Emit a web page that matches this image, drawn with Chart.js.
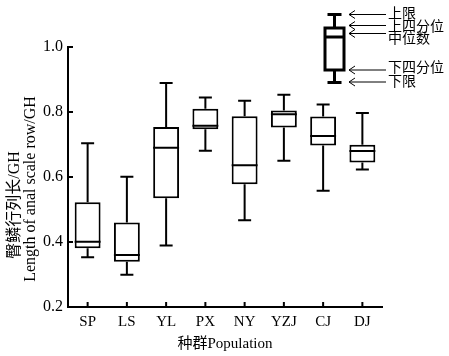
<!DOCTYPE html>
<html><head><meta charset="utf-8">
<script src="https://cdn.jsdelivr.net/npm/chart.js@4/dist/chart.umd.min.js"></script>
<style>html,body{margin:0;padding:0;background:#fff;}</style>
</head><body>
<canvas id="c" width="449" height="356"></canvas>
<script>
const categories = ['SP','LS','YL','PX','NY','YZJ','CJ','DJ'];
const whiskerMax = [0.704,0.601,0.889,0.845,0.835,0.853,0.823,0.797];
const q3Values   = [0.522,0.460,0.754,0.810,0.787,0.805,0.786,0.699];
const medians    = [0.401,0.360,0.690,0.758,0.636,0.793,0.726,0.680];
const q1Values   = [0.381,0.339,0.535,0.747,0.578,0.752,0.697,0.645];
const whiskerMin = [0.353,0.299,0.389,0.681,0.467,0.650,0.558,0.623];
const yTicks = [0.2,0.4,0.6,0.8,1.0];
const legendLabels = ['上限','上四分位','中位数','下四分位','下限'];
const yTitleCn = '臀鳞行列长/GH';
const yTitleEn = 'Length of anal scale row/GH';
const xTitle = '种群Population';

const FONT = "'Liberation Serif', 'Noto Sans CJK SC', serif";

const boxPlugin = {
  id: 'boxPlot',
  afterDatasetsDraw(chart) {
    const ctx = chart.ctx, y = chart.scales.y, x = chart.scales.x;
    const meta = chart.getDatasetMeta(0);
    const area = chart.chartArea;
    ctx.save();
    ctx.strokeStyle = '#000';
    ctx.lineWidth = 2;
    meta.data.forEach((bar, i) => {
      const cx = bar.x, hw = bar.width / 2, cap = 6.5;
      const pMax = y.getPixelForValue(whiskerMax[i]);
      const pQ3 = y.getPixelForValue(q3Values[i]);
      const pMed = y.getPixelForValue(medians[i]);
      const pQ1 = y.getPixelForValue(q1Values[i]);
      const pMin = y.getPixelForValue(whiskerMin[i]);
      ctx.beginPath();
      ctx.moveTo(cx, pQ3); ctx.lineTo(cx, pMax);
      ctx.moveTo(cx - cap, pMax); ctx.lineTo(cx + cap, pMax);
      ctx.moveTo(cx, pQ1); ctx.lineTo(cx, pMin);
      ctx.moveTo(cx - cap, pMin); ctx.lineTo(cx + cap, pMin);
      ctx.moveTo(cx - hw, pMed); ctx.lineTo(cx + hw, pMed);
      ctx.stroke();
    });
    // inward ticks
    ctx.beginPath();
    y.ticks.forEach((t, i) => {
      const py = y.getPixelForTick(i);
      ctx.moveTo(area.left, py); ctx.lineTo(area.left + 5, py);
    });
    x.ticks.forEach((t, i) => {
      const px = x.getPixelForTick(i);
      ctx.moveTo(px, area.bottom); ctx.lineTo(px, area.bottom - 5);
    });
    ctx.stroke();
    ctx.restore();
  },
  afterDraw(chart) {
    const ctx = chart.ctx;
    ctx.save();
    // y title (two rotated lines)
    ctx.fillStyle = '#000';
    ctx.font = '16px ' + FONT;
    ctx.textAlign = 'center';
    ctx.textBaseline = 'middle';
    ctx.save(); ctx.translate(15, 205); ctx.rotate(-Math.PI / 2); ctx.fillText(yTitleCn, 0, 0); ctx.restore();
    ctx.save(); ctx.translate(31, 189); ctx.rotate(-Math.PI / 2); ctx.fillText(yTitleEn, 0, 0); ctx.restore();

    // legend box
    ctx.strokeStyle = '#000';
    ctx.lineWidth = 3;
    const bx = 334.5, bl = 325, br = 344, cap = 7;
    const yTop = 14.5, yQ3 = 28, yMed = 37, yQ1 = 70, yLow = 82.5;
    ctx.strokeRect(bl, yQ3, br - bl, yQ1 - yQ3);
    ctx.beginPath();
    ctx.moveTo(bl, yMed); ctx.lineTo(br, yMed);
    ctx.moveTo(bx, yQ3); ctx.lineTo(bx, yTop);
    ctx.moveTo(bx - cap, yTop); ctx.lineTo(bx + cap, yTop);
    ctx.moveTo(bx, yQ1); ctx.lineTo(bx, yLow);
    ctx.moveTo(bx - cap, yLow); ctx.lineTo(bx + cap, yLow);
    ctx.stroke();

    // arrows
    ctx.lineWidth = 1;
    const arrowY = [14.5, 25.5, 33.5, 70, 82];
    const textY = [14.5, 27, 39.5, 68.5, 82.5];
    arrowY.forEach(ay => {
      ctx.beginPath();
      ctx.moveTo(349, ay); ctx.lineTo(386, ay);
      ctx.moveTo(355, ay - 4); ctx.lineTo(349, ay); ctx.lineTo(355, ay + 4);
      ctx.stroke();
    });
    ctx.font = '14px ' + FONT;
    ctx.textAlign = 'left';
    ctx.textBaseline = 'middle';
    legendLabels.forEach((t, i) => ctx.fillText(t, 388, textY[i]));
    ctx.restore();
  }
};

new Chart(document.getElementById('c'), {
  type: 'bar',
  data: {
    labels: categories,
    datasets: [{
      data: q1Values.map((v, i) => [v, q3Values[i]]),
      backgroundColor: '#fff',
      borderColor: '#000',
      borderWidth: 2,
      borderSkipped: false,
      barPercentage: 0.66,
      categoryPercentage: 1
    }]
  },
  options: {
    responsive: false,
    animation: false,
    devicePixelRatio: 1,
    layout: { padding: { top: 47, right: 67, left: 0, bottom: 0 } },
    plugins: { legend: { display: false }, tooltip: { enabled: false } },
    scales: {
      x: {
        offset: true,
        grid: { display: false, drawTicks: false },
        border: { display: true, color: '#000', width: 2 },
        ticks: { color: '#000', padding: 6, font: { family: FONT, size: 15 } },
        title: { display: true, text: xTitle, color: '#000', font: { family: FONT, size: 15 }, padding: { top: 0, bottom: 3 } },
        afterFit(s) { s.height = 49; }
      },
      y: {
        min: 0.2, max: 1.0,
        grid: { display: false, drawTicks: false },
        border: { display: true, color: '#000', width: 2 },
        afterBuildTicks(s) { s.ticks = yTicks.map(v => ({ value: v })); },
        ticks: { color: '#000', padding: 5, font: { family: FONT, size: 16 }, callback: v => Number(v).toFixed(1) },
        afterFit(s) { s.width = 68; }
      }
    }
  },
  plugins: [boxPlugin]
});
</script>
</body></html>
